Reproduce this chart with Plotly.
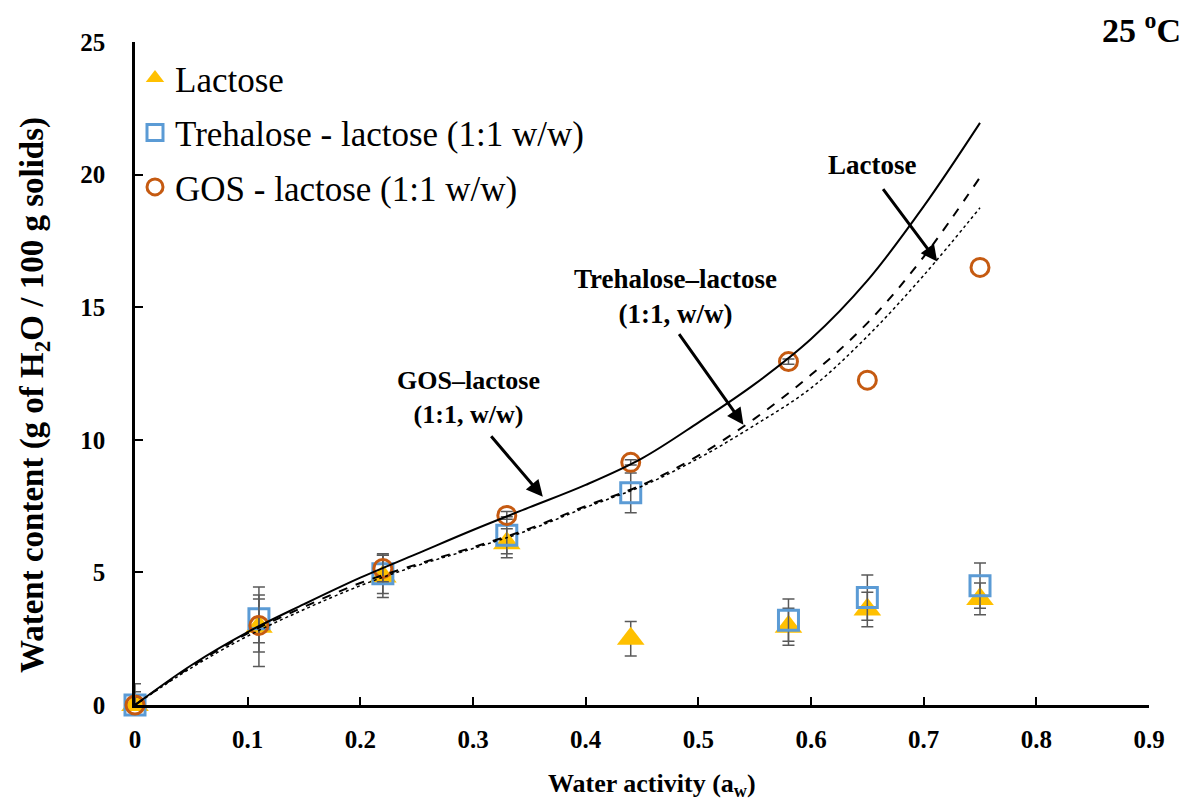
import plotly.graph_objects as go

# ---- measured data ----
aw = [0, 0.11, 0.22, 0.33, 0.44, 0.58, 0.65, 0.75]

lactose = [0, 2.95, 4.85, 6.1, 2.5, 2.95, 3.6, 4.0]
lactose_err = [0.8, 1.5, 0.8, 0.55, 0.65, 0.7, 0.65, 0.6]

trehalose = [0, 3.25, 4.95, 6.4, 8.0, 3.2, 4.05, 4.5]
trehalose_err = [0.5, 0.9, 0.75, 0.7, 0.75, 0.8, 0.85, 0.85]

gos = [0, 3.0, 5.15, 7.15, 9.15, 12.95, 12.25, 16.5]
gos_err = [0.3, 1.0, 0.5, 0.15, 0.1, 0.1]   # last two points have no error bar

# ---- model curves ----
aw_fit = [0, 0.05, 0.1, 0.15, 0.2, 0.25, 0.3, 0.35, 0.4, 0.45, 0.5, 0.55, 0.6, 0.65, 0.7, 0.75]
gos_fit = [0, 1.5, 2.75, 3.8, 4.8, 5.7, 6.6, 7.45, 8.3, 9.3, 10.65, 12.1, 13.8, 16.0, 18.8, 21.95]
trehalose_fit = [0, 1.45, 2.7, 3.7, 4.6, 5.3, 5.95, 6.65, 7.5, 8.3, 9.4, 10.8, 12.45, 14.4, 16.9, 19.9]
lactose_fit = [0, 1.4, 2.6, 3.6, 4.5, 5.25, 5.9, 6.6, 7.45, 8.25, 9.3, 10.55, 11.95, 13.9, 16.2, 18.75]

SERIF = "Liberation Serif, Times New Roman, serif"
ERR_COLOR = "#595959"
C_LAC = "#FFC000"
C_TRE = "#5B9BD5"
C_GOS = "#C55A11"

fig = go.Figure()

fig.add_trace(go.Scatter(
    x=aw, y=lactose, mode="markers", name="Lactose",
    legendgroup="a",
    marker=dict(symbol="triangle-up", size=24, color=C_LAC),
    error_y=dict(type="data", array=lactose_err, color=ERR_COLOR, thickness=1.5, width=6),
    cliponaxis=False,
))
fig.add_trace(go.Scatter(
    x=aw, y=trehalose, mode="markers", name="Trehalose - lactose (1:1 w/w)",
    legendgroup="b",
    marker=dict(symbol="square-open", size=20, color=C_TRE, line=dict(width=3, color=C_TRE)),
    error_y=dict(type="data", array=trehalose_err, color=ERR_COLOR, thickness=1.5, width=6),
    cliponaxis=False,
))
n_err = len(gos_err)
fig.add_trace(go.Scatter(
    x=aw[:n_err], y=gos[:n_err], mode="markers", name="GOS - lactose (1:1 w/w)",
    legendgroup="c",
    marker=dict(symbol="circle-open", size=18, color=C_GOS, line=dict(width=3, color=C_GOS)),
    error_y=dict(type="data", array=gos_err, color=ERR_COLOR, thickness=1.5, width=6),
    cliponaxis=False,
))
fig.add_trace(go.Scatter(
    x=aw[n_err:], y=gos[n_err:], mode="markers", name="GOS - lactose (1:1 w/w)",
    legendgroup="c", showlegend=False,
    marker=dict(symbol="circle-open", size=18, color=C_GOS, line=dict(width=3, color=C_GOS)),
    cliponaxis=False,
))

fig.add_trace(go.Scatter(
    x=aw_fit, y=gos_fit, mode="lines", showlegend=False,
    line=dict(color="black", width=2, shape="spline"),
))
fig.add_trace(go.Scatter(
    x=aw_fit, y=trehalose_fit, mode="lines", showlegend=False,
    line=dict(color="black", width=2, dash="dash", shape="spline"),
))
fig.add_trace(go.Scatter(
    x=aw_fit, y=lactose_fit, mode="lines", showlegend=False,
    line=dict(color="black", width=1.5, dash="dot", shape="spline"),
))

ann_font = dict(family=SERIF, size=27, color="black", weight="bold")

# curve labels
fig.add_annotation(x=0.6545, y=20.38, text="Lactose", showarrow=False, font=ann_font)
fig.add_annotation(x=0.4796, y=15.4, text="Trehalose–lactose<br>(1:1, w/w)", showarrow=False, font=ann_font)
fig.add_annotation(x=0.2957, y=11.58, text="GOS–lactose<br>(1:1, w/w)", showarrow=False,
                   font=dict(family=SERIF, size=26, color="black", weight="bold"))

# arrows
arrow_style = dict(showarrow=True, arrowhead=2, arrowsize=1.1, arrowwidth=3, arrowcolor="black",
                   axref="x", ayref="y", text="")
fig.add_annotation(x=0.712, y=16.72, ax=0.663, ay=19.51, **arrow_style)
fig.add_annotation(x=0.540, y=10.57, ax=0.482, ay=14.04, **arrow_style)
fig.add_annotation(x=0.362, y=7.85, ax=0.315, ay=10.19, **arrow_style)

# temperature label
fig.add_annotation(x=1.0335, y=1.021, xref="paper", yref="paper", xanchor="right", yanchor="middle",
                   text="25 <sup>o</sup>C", showarrow=False,
                   font=dict(family=SERIF, size=34, color="black", weight="bold"))

# axis titles (as annotations for exact placement)
fig.add_annotation(x=-0.0986, y=0.4676, xref="paper", yref="paper", xanchor="center", yanchor="middle",
                   text="Watent content (g of H<sub>2</sub>O / 100 g solids)", textangle=-90,
                   showarrow=False, font=dict(family=SERIF, size=33, color="black", weight="bold"))
fig.add_annotation(x=0.51, y=-0.1207, xref="paper", yref="paper", xanchor="center", yanchor="middle",
                   text="Water activity (a<sub>w</sub>)", showarrow=False,
                   font=dict(family=SERIF, size=26, color="black", weight="bold"))

fig.update_layout(
    width=1181, height=798,
    margin=dict(l=127, r=40, t=34, b=101),
    plot_bgcolor="white", paper_bgcolor="white",
    font=dict(family=SERIF, color="black"),
    showlegend=True,
    legend=dict(x=0.0, y=0.99, xanchor="left", yanchor="top",
                font=dict(family=SERIF, size=35, color="black"),
                bgcolor="rgba(0,0,0,0)", tracegroupgap=6, itemwidth=30),
    xaxis=dict(
        range=[0, 0.9], dtick=0.1, tick0=0, automargin=False,
        showline=True, linecolor="black", linewidth=2.5,
        ticks="inside", ticklen=8, tickwidth=2, tickcolor="black",
        showgrid=False, zeroline=False,
        tickfont=dict(family=SERIF, size=25, color="black", weight="bold"),
        ticklabelstandoff=10,
    ),
    yaxis=dict(
        range=[0, 25], dtick=5, tick0=0, automargin=False,
        showline=True, linecolor="black", linewidth=2.5,
        ticks="inside", ticklen=8, tickwidth=2, tickcolor="black",
        showgrid=False, zeroline=False,
        tickfont=dict(family=SERIF, size=25, color="black", weight="bold"),
        ticklabelstandoff=22,
    ),
)

fig.write_html("out.html")
